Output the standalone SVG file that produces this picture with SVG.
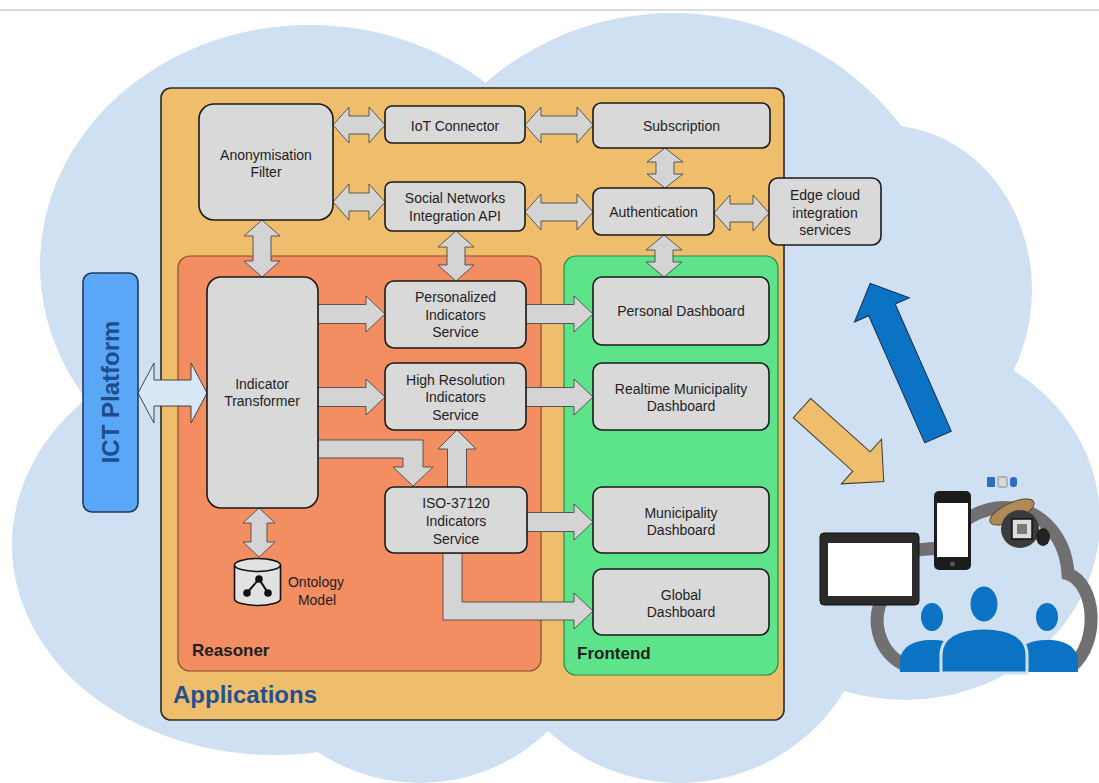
<svg xmlns="http://www.w3.org/2000/svg" width="1099" height="783" viewBox="0 0 1099 783">
  <style>
    .node { fill: #d9d9d9; stroke: #1a1a1a; stroke-width: 1.6; }
    .lbl { font-family: "Liberation Sans", Arial, sans-serif; font-size: 14px; fill: #1e1e1e; text-anchor: middle; }
    .title { font-family: "Liberation Sans", Arial, sans-serif; font-weight: bold; }
    .conn { fill: #d4d4d4; stroke: #4a4a4a; stroke-width: 0.9; stroke-linejoin: miter; }
    .cloud { fill: #cfe0f2; }
    .person { fill: #0b72c4; }
  </style>

  <rect x="0" y="0" width="1099" height="783" fill="#ffffff"/>
  <line x1="0" y1="10" x2="1099" y2="10" stroke="#d2d2d2" stroke-width="1.5"/>

  <!-- background cloud built from overlapping lobes -->
  <g id="cloud" class="cloud">
    <ellipse cx="310" cy="265" rx="270" ry="240"/>
    <circle cx="673" cy="300" r="287"/>
    <ellipse cx="885" cy="290" rx="147" ry="165"/>
    <ellipse cx="905" cy="520" rx="195" ry="180"/>
    <ellipse cx="275" cy="545" rx="263" ry="210"/>
    <circle cx="420" cy="600" r="183"/>
    <circle cx="680" cy="590" r="193"/>
    <ellipse cx="600" cy="450" rx="330" ry="250"/>
  </g>

  <!-- containers -->
  <g id="applications">
    <rect x="161" y="88" width="623" height="632" rx="10" fill="#efbe6c" stroke="#2a2a2a" stroke-width="1.6"/>
    <text class="title" x="173" y="703" font-size="24" fill="#24508f">Applications</text>
  </g>
  <g id="reasoner">
    <rect x="178" y="256" width="363" height="415" rx="12" fill="#f38d62" stroke="#8a4a2a" stroke-width="1.2"/>
    <text class="title" x="192" y="656" font-size="17" fill="#1e1e1e">Reasoner</text>
  </g>
  <g id="frontend">
    <rect x="564" y="256" width="214" height="419" rx="12" fill="#5de48a" stroke="#2a8a40" stroke-width="1.2"/>
    <text class="title" x="577" y="659" font-size="17" fill="#1e1e1e">Frontend</text>
  </g>

  <!-- connectors -->
  <g id="connectors">
    <polygon class="conn" points="333,125 349,107 349,116 369,116 369,107 385,125 369,143 369,134 349,134 349,143"/>
    <polygon class="conn" points="525,125 541,107 541,116 577,116 577,107 593,125 577,143 577,134 541,134 541,143"/>
    <polygon class="conn" points="333,202 349,184 349,193 369,193 369,184 385,202 369,220 369,211 349,211 349,220"/>
    <polygon class="conn" points="525,212 541,194 541,203 577,203 577,194 593,212 577,230 577,221 541,221 541,230"/>
    <polygon class="conn" points="714,213 730,195 730,204 753,204 753,195 769,213 753,231 753,222 730,222 730,231"/>
    <polygon class="conn" points="665,148 683,162 674,162 674,174 683,174 665,188 647,174 656,174 656,162 647,162"/>
    <polygon class="conn" points="664,235 682,250 673,250 673,262 682,262 664,277 646,262 655,262 655,250 646,250"/>
    <polygon class="conn" points="262,220 280,236 271,236 271,261 280,261 262,277 244,261 253,261 253,236 244,236"/>
    <polygon class="conn" points="456,231 474,247 465,247 465,265 474,265 456,281 438,265 447,265 447,247 438,247"/>
    <polygon class="conn" points="259,508 275,523 267,523 267,542 275,542 259,557 243,542 251,542 251,523 243,523"/>
    <polygon points="138,393 154,363 154,380 191,380 191,363 207,393 191,423 191,406 154,406 154,423" fill="#d8e7f6" stroke="#333333" stroke-width="0.9"/>
    <polygon class="conn" points="318,304.5 366,304.5 366,296 385,314 366,332 366,323.5 318,323.5"/>
    <polygon class="conn" points="318,387.5 366,387.5 366,379 385,397 366,415 366,406.5 318,406.5"/>
    <polygon class="conn" points="526,304.5 574,304.5 574,296 593,314 574,332 574,323.5 526,323.5"/>
    <polygon class="conn" points="526,387.5 574,387.5 574,379 593,397 574,415 574,406.5 526,406.5"/>
    <polygon class="conn" points="527,512.5 574,512.5 574,504 593,522 574,540 574,531.5 527,531.5"/>
    <polygon class="conn" points="447.5,487 447.5,449 438,449 457,430 476,449 466.5,449 466.5,487"/>
    <polygon class="conn" points="318,440 423,440 423,467 433,467 413,486 393,467 403,467 403,458 318,458"/>
    <polygon class="conn" points="443,553 462,553 462,602 574,602 574,593 593,611 574,629 574,620 443,620"/>
  </g>

  <!-- nodes -->
  <g id="ict-platform">
    <rect x="83" y="273" width="55" height="239" rx="9" fill="#5aa6f7" stroke="#22395a" stroke-width="1.6"/>
    <text class="title" transform="translate(110,392) rotate(-90)" text-anchor="middle" dominant-baseline="central" font-size="24" fill="#1d4e8c">ICT Platform</text>
  </g>
  <g id="anonymisation-filter">
    <rect class="node" x="199" y="104" width="134" height="116" rx="15"/>
    <text class="lbl" x="266" y="160">Anonymisation</text>
    <text class="lbl" x="266" y="177">Filter</text>
  </g>
  <g id="iot-connector">
    <rect class="node" x="385" y="106" width="140" height="37" rx="7"/>
    <text class="lbl" x="455" y="131">IoT Connector</text>
  </g>
  <g id="social-networks">
    <rect class="node" x="385" y="182" width="140" height="49" rx="7"/>
    <text class="lbl" x="455" y="203">Social Networks</text>
    <text class="lbl" x="455" y="221">Integration API</text>
  </g>
  <g id="subscription">
    <rect class="node" x="593" y="103" width="177" height="45" rx="8"/>
    <text class="lbl" x="681.5" y="131">Subscription</text>
  </g>
  <g id="authentication">
    <rect class="node" x="593" y="188" width="121" height="47" rx="8"/>
    <text class="lbl" x="653.5" y="217">Authentication</text>
  </g>
  <g id="edge-cloud">
    <rect class="node" x="769" y="178" width="112" height="67" rx="9"/>
    <text class="lbl" x="825" y="200">Edge cloud</text>
    <text class="lbl" x="825" y="218">integration</text>
    <text class="lbl" x="825" y="235">services</text>
  </g>
  <g id="indicator-transformer">
    <rect class="node" x="207" y="277" width="111" height="231" rx="14"/>
    <text class="lbl" x="262" y="389">Indicator</text>
    <text class="lbl" x="262" y="406">Transformer</text>
  </g>
  <g id="personalized-indicators">
    <rect class="node" x="385" y="281" width="141" height="67" rx="9"/>
    <text class="lbl" x="455.5" y="302">Personalized</text>
    <text class="lbl" x="455.5" y="320">Indicators</text>
    <text class="lbl" x="455.5" y="337">Service</text>
  </g>
  <g id="high-resolution-indicators">
    <rect class="node" x="385" y="363" width="141" height="67" rx="9"/>
    <text class="lbl" x="455.5" y="385">High Resolution</text>
    <text class="lbl" x="455.5" y="402">Indicators</text>
    <text class="lbl" x="455.5" y="420">Service</text>
  </g>
  <g id="iso-37120-indicators">
    <rect class="node" x="385" y="487" width="142" height="66" rx="9"/>
    <text class="lbl" x="456" y="508">ISO-37120</text>
    <text class="lbl" x="456" y="526">Indicators</text>
    <text class="lbl" x="456" y="544">Service</text>
  </g>
  <g id="ontology-model">
    <path d="M234.5,565 L234.5,599 A23,6.5 0 0 0 280.5,599 L280.5,565" fill="#e2e2e2" stroke="#111111" stroke-width="1.6"/>
    <ellipse cx="257.5" cy="565" rx="23" ry="6.5" fill="#e2e2e2" stroke="#111111" stroke-width="1.6"/>
    <path d="M247,593 L259,579 L268,593" fill="none" stroke="#111111" stroke-width="2"/>
    <circle cx="259" cy="579" r="3.8" fill="#111111"/>
    <circle cx="247" cy="593" r="3.8" fill="#111111"/>
    <circle cx="268" cy="593" r="3.8" fill="#111111"/>
    <text class="lbl" x="316" y="587" fill="#2b1d14">Ontology</text>
    <text class="lbl" x="317" y="605" fill="#2b1d14">Model</text>
  </g>
  <g id="personal-dashboard">
    <rect class="node" x="593" y="277" width="176" height="68" rx="9"/>
    <text class="lbl" x="681" y="316">Personal Dashboard</text>
  </g>
  <g id="realtime-municipality-dashboard">
    <rect class="node" x="593" y="363" width="176" height="67" rx="9"/>
    <text class="lbl" x="681" y="394">Realtime Municipality</text>
    <text class="lbl" x="681" y="411">Dashboard</text>
  </g>
  <g id="municipality-dashboard">
    <rect class="node" x="593" y="487" width="176" height="66" rx="9"/>
    <text class="lbl" x="681" y="518">Municipality</text>
    <text class="lbl" x="681" y="535">Dashboard</text>
  </g>
  <g id="global-dashboard">
    <rect class="node" x="593" y="569" width="176" height="66" rx="9"/>
    <text class="lbl" x="681" y="600">Global</text>
    <text class="lbl" x="681" y="617">Dashboard</text>
  </g>

  <!-- outbound / inbound flow to user devices -->
  <g id="flow-arrows">
    <polygon transform="translate(802,408) rotate(42)" points="0,-13 80,-13 80,-30 110,0 80,30 80,13 0,13" fill="#efbe6c" stroke="#3a3a3a" stroke-width="1"/>
    <polygon transform="translate(938,437) rotate(246.2)" points="0,-14.5 139,-14.5 139,-30 168,0 139,30 139,14.5 0,14.5" fill="#0b72c4" stroke="#1a2a4a" stroke-width="1"/>
  </g>

  <!-- user devices and people -->
  <g id="users">
    <path d="M905,665 C872,650 870,605 890,590 L890,552 L940,548 C955,520 985,505 1012,508 C1045,512 1066,540 1068,574 C1096,584 1100,642 1072,666" fill="none" stroke="#707070" stroke-width="13"/>
    <!-- tablet -->
    <rect x="820" y="533" width="99" height="72" rx="4" fill="#2b2b2b" stroke="#111111" stroke-width="1"/>
    <rect x="828" y="543" width="84" height="53" fill="#ffffff"/>
    <!-- phone -->
    <rect x="934" y="491" width="37" height="79" rx="5" fill="#1c1c1c"/>
    <rect x="937" y="503" width="31" height="54" fill="#ffffff"/>
    <circle cx="952.5" cy="564" r="2.5" fill="#555555"/>
    <!-- watch -->
    <ellipse cx="1012" cy="512" rx="24" ry="9" transform="rotate(-25 1012 512)" fill="#b08a55" stroke="#5a4528" stroke-width="1"/>
    <circle cx="1020" cy="529" r="19" fill="#3b3b3b"/>
    <rect x="1012" y="519" width="20" height="20" fill="#dcdcdc" stroke="#111111" stroke-width="1.5"/>
    <rect x="1017" y="524" width="10" height="10" fill="#7a7a7a"/>
    <ellipse cx="1043" cy="537" rx="7" ry="9" fill="#222222"/>
    <!-- status icons -->
    <rect x="987" y="477" width="8" height="10" rx="1" fill="#2a6fc0"/>
    <rect x="998" y="477" width="9" height="10" rx="1" fill="#d8d8d8" stroke="#7a7a7a" stroke-width="0.8"/>
    <rect x="1010" y="477" width="7" height="10" rx="3" fill="#2a6fc0"/>
    <!-- people -->
    <g class="person">
      <ellipse cx="932" cy="617" rx="11" ry="14"/>
      <path d="M900,672 L900,662 C900,648 912,640 932,640 C952,640 962,648 962,662 L962,672 Z"/>
      <ellipse cx="1047" cy="617" rx="11" ry="14"/>
      <path d="M1015,672 L1015,662 C1015,648 1027,640 1047,640 C1067,640 1078,648 1078,662 L1078,672 Z"/>
    </g>
    <g class="person" stroke="#cfe0f2" stroke-width="3">
      <ellipse cx="984" cy="604" rx="15" ry="19"/>
      <path d="M941,673 L941,655 C941,637 958,628 984,628 C1010,628 1027,637 1027,655 L1027,673 Z"/>
    </g>
  </g>
</svg>
